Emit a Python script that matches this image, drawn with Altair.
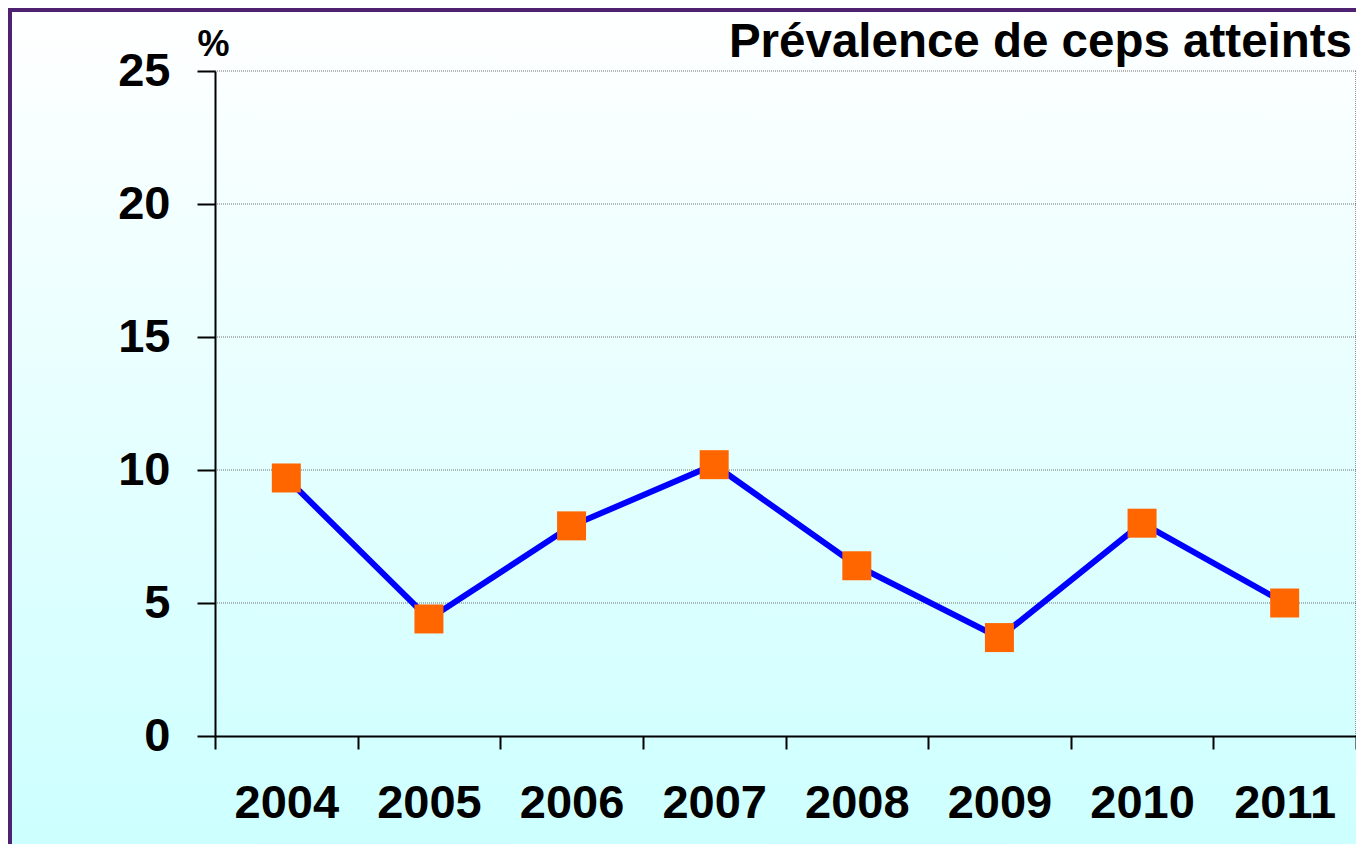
import altair as alt
import pandas as pd

years = ["2004", "2005", "2006", "2007", "2008", "2009", "2010", "2011"]
prevalence = [9.7, 4.4, 7.9, 10.2, 6.4, 3.7, 8.0, 5.0]
y_ticks = [0, 5, 10, 15, 20, 25]
grid_values = [5, 10, 15, 20, 25]
title_text = ["Prévalence de ceps atteints"]

FONT = "Liberation Sans"
W, H = 1141, 665

df = pd.DataFrame({"year": years, "value": prevalence})
grid_df = pd.DataFrame({"v": grid_values})
title_df = pd.DataFrame({"t": title_text})
one = pd.DataFrame({"a": [0]})

yscale = alt.Scale(domain=[0, 25], nice=False, zero=True)
xscale = alt.Scale(type="band", paddingInner=0, paddingOuter=0, domain=years)

gradient = alt.LinearGradient(
    gradient="linear",
    stops=[alt.GradientStop(color="#ffffff", offset=0),
           alt.GradientStop(color="#ccffff", offset=1)],
    x1=0, x2=0, y1=0, y2=1,
)

bg = alt.Chart(one).mark_rect(fill=gradient, strokeWidth=0).encode(
    x=alt.value(-203), x2=alt.value(W + 20),
    y=alt.value(-59), y2=alt.value(H + 120),
)

grid = alt.Chart(grid_df).mark_rule(color="#6e6e6e", strokeWidth=1, strokeDash=[1, 1]).encode(
    y=alt.Y("v:Q", scale=yscale),
)

right_border = alt.Chart(one).mark_rule(color="#333333", strokeWidth=1, strokeDash=[1, 1]).encode(
    x=alt.value(W), y=alt.value(0), y2=alt.value(H),
)

x_axis = alt.Axis(
    title=None, labelAngle=0, tickBand="extent", tickSize=13, tickWidth=2,
    tickColor="black", domainColor="black", domainWidth=2,
    labelFont=FONT, labelFontSize=47, labelFontWeight="bold", labelColor="black",
    labelPadding=31, labelOverlap=False, grid=False, zindex=1,
)
y_axis = alt.Axis(
    values=y_ticks, title="%", titleAngle=0, titleX=-2, titleY=-16,
    titleAlign="center", titleBaseline="alphabetic", titleFont=FONT,
    titleFontSize=36, titleFontWeight="bold", titleColor="black",
    tickSize=18, tickWidth=2, tickColor="black", domainColor="black", domainWidth=2,
    labelFont=FONT, labelFontSize=47, labelFontWeight="bold", labelColor="black",
    labelPadding=27, labelOverlap=False, labelBound=False, grid=False, zindex=1,
)

line = alt.Chart(df).mark_line(color="#0000ff", strokeWidth=6).encode(
    x=alt.X("year:O", scale=xscale, axis=x_axis),
    y=alt.Y("value:Q", scale=yscale, axis=y_axis),
)

points = alt.Chart(df).mark_point(shape="square", filled=True, size=841,
                                   color="#ff6600", opacity=1).encode(
    x=alt.X("year:O", scale=xscale),
    y=alt.Y("value:Q", scale=yscale),
)

title = alt.Chart(title_df).mark_text(
    align="right", baseline="alphabetic", font=FONT, fontSize=47.5,
    fontWeight="bold", color="black",
).encode(x=alt.value(1137), y=alt.value(-14), text="t:N")

chart = alt.layer(bg, grid, right_border, line, points, title).properties(
    width=W, height=H,
    padding={"left": 207, "top": 63, "right": 0, "bottom": 108},
    autosize=alt.AutoSizeParams(type="none"),
    background="#4e2270",
).configure_view(strokeWidth=0)

chart.save("out.html", embed_options={"renderer": "svg", "actions": False})
